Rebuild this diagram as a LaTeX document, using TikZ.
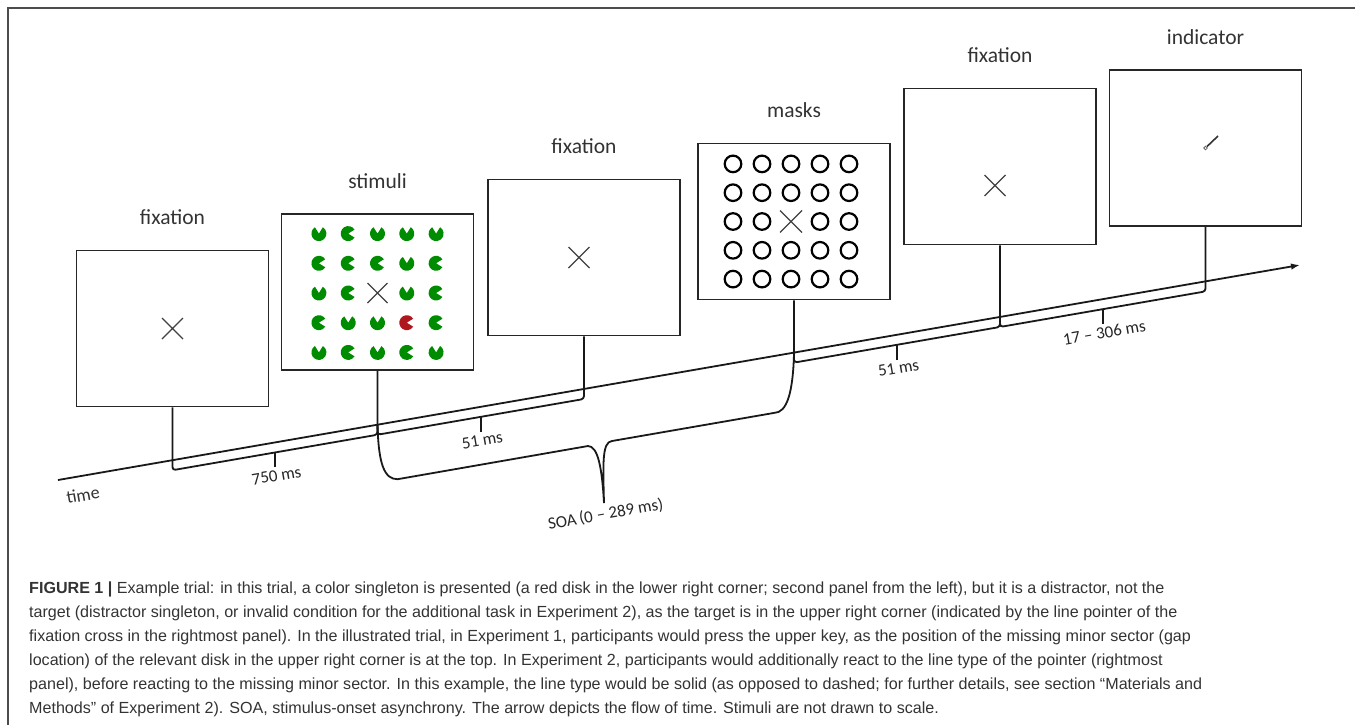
\documentclass[tikz,border=0pt]{standalone}
\usepackage{fontspec}
\setmainfont{Carlito}
\newfontfamily\capfont{Liberation Sans}
\usepackage{xcolor}
\usetikzlibrary{arrows.meta, positioning, calc}
\definecolor{dgreen}{RGB}{0,140,0}
\definecolor{dred}{RGB}{175,22,30}
\tikzstyle{screen} = [rectangle, draw=black!85, line width=1.8pt, minimum width=192pt, minimum height=156pt, inner sep=0pt]
\tikzstyle{lbl} = [font=\fontsize{21.5}{24}\selectfont, text=black!80]
\tikzstyle{ms} = [font=\fontsize{17}{19}\selectfont, text=black!85, rotate=9.8, anchor=north, inner sep=2pt]
\tikzstyle{tl} = [line width=1.8pt, black!90]
\tikzstyle{crossline} = [line width=1.3pt, black!75]
\tikzstyle{greendisk} = [fill=dgreen]
\tikzstyle{reddisk} = [fill=dred]
\tikzset{
  gapdisk/.pic={\fill (0,0) -- (#1+32:7.5) arc [start angle=#1+32, end angle=#1+328, radius=7.5] -- cycle;},
  xmark/.pic={\draw [crossline] (-#1,-#1) -- (#1,#1) (-#1,#1) -- (#1,-#1);}
}

\begin{document}
\begin{tikzpicture}[x=1pt, y=1pt, node distance=111pt]
\useasboundingbox (0,0) rectangle (1355,-724);
\draw [black!70, line width=1.6pt] (8,-730) -- (8,-8) -- (1360,-8);

% screens of one trial
\node (fix1) [screen] at (172.5,-328.5) {};
\node (stim) [screen] at (377.5,-292) {};
\node (fix2) [screen] at (584,-257.5) {};
\node (mask) [screen] at (794,-221.5) {};
\node (fix3) [screen] at (1000,-166.5) {};
\node (ind) [screen] at (1205.5,-148) {};

\node (lfix1) [lbl, above of=fix1] {fixation};
\node (lstim) [lbl, above of=stim] {stimuli};
\node (lfix2) [lbl, above of=fix2] {fixation};
\node (lmask) [lbl, above of=mask] {masks};
\node (lfix3) [lbl, above of=fix3] {fixation};
\node (lind) [lbl, above of=ind] {indicator};

% screen contents
\pic at (fix1) {xmark=10.5};
\pic at ($(fix2)+(-5,0)$) {xmark=10.5};
\pic at ($(fix3)+(-5,-19)$) {xmark=10.5};
\pic at ($(stim)+(0,-1)$) {xmark=10};
\pic at ($(mask)+(-3,0)$) {xmark=11};
\foreach \angs [count=\r from 0] in {{90,0,90,90,90},{0,0,0,90,0},{90,0,-1,90,0},{0,90,90,-2,0},{90,0,90,0,90}}
  \foreach \a [count=\c from 0] in \angs {
    \ifnum\a=-1\relax
    \else\ifnum\a=-2\relax
      \pic [reddisk] at ($(stim)+({(\c-2)*29.3},{-(\r-2)*29.7-1})$) {gapdisk=0};
    \else
      \pic [greendisk] at ($(stim)+({(\c-2)*29.3},{-(\r-2)*29.7-1})$) {gapdisk=\a};
    \fi\fi
  };
\foreach \r in {0,...,4}
  \foreach \c in {0,...,4} {
    \pgfmathtruncatemacro\k{\r*5+\c}
    \ifnum\k=12\relax\else
      \draw [line width=2.2pt] ($(mask)+({(\c-2)*29-3},{-(\r-2)*28.8})$) circle (8.3);
    \fi
  };
\draw [line width=1.6pt, black!80] ($(ind)+(1.5,1.5)$) -- ++(11,10.5);
\draw [black!60, line width=0.8pt] (ind) circle (1.8);

% time line
\coordinate (tstart) at (58,-480);
\coordinate (tend) at (1300,-265);
\draw [tl, -{Latex[length=9pt, width=6.5pt]}] (tstart) -- (tend);
\node (time) [lbl, font=\fontsize{18}{20}\selectfont, rotate=9.8] at (83,-495) {time};

\coordinate (c1) at (intersection of tstart--tend and fix1.south--fix1.north);
\coordinate (c2) at (intersection of tstart--tend and stim.south--stim.north);
\coordinate (c3) at (intersection of tstart--tend and fix2.south--fix2.north);
\coordinate (c4) at (intersection of tstart--tend and mask.south--mask.north);
\coordinate (c5) at (intersection of tstart--tend and fix3.south--fix3.north);
\coordinate (c6) at (intersection of tstart--tend and ind.south--ind.north);
\foreach \s/\c in {fix1/c1, stim/c2, fix2/c3, mask/c4, fix3/c5, ind/c6}
  \draw [tl] (\s.south) -- (\c);

% durations
\foreach \a/\b/\t in {c1/c2/{750 ms}, c2/c3/{51 ms}, c4/c5/{51 ms}, c5/c6/{17 -- 306 ms}} {
  \draw [tl, rounded corners=3pt] (\a) -- ($(\a)+(0,-10)$) -- ($(\b)+(0,-10)$) -- (\b);
  \draw [tl] ($(\a)!0.5!(\b)+(0,-10)$) -- ++(0,-15) node [ms] {\t};
}
\draw [tl] (c2) .. controls +(1,-40) and +(-13,0) .. ($(c2)+(20,-54.5)$)
  -- (588,-446) .. controls +(10,0) and +(-2,35) .. (604,-503)
  .. controls +(-1,40) and +(-10,-1) .. (612,-441)
  -- ($(c4)+(-20,-60.3)$) .. controls +(13,0) and +(-1,-40) .. (c4);
\node (soa) [ms] at (604,-505) {SOA\,(0 -- 289 ms)};

% caption
\node (cap) [anchor=north west, inner sep=0pt, align=left, text=black!80,
  font=\capfont\fontsize{16.1}{23.9}\selectfont] at (29,-582) {%
\textbf{FIGURE 1 |} Example trial: in this trial, a color singleton is presented (a red disk in the lower right corner; second panel from the left), but it is a distractor, not the\\
target (distractor singleton, or invalid condition for the additional task in Experiment 2), as the target is in the upper right corner (indicated by the line pointer of the\\
fixation cross in the rightmost panel). In the illustrated trial, in Experiment 1, participants would press the upper key, as the position of the missing minor sector (gap\\
location) of the relevant disk in the upper right corner is at the top. In Experiment 2, participants would additionally react to the line type of the pointer (rightmost\\
panel), before reacting to the missing minor sector. In this example, the line type would be solid (as opposed to dashed; for further details, see section “Materials and\\
Methods” of Experiment 2). SOA, stimulus-onset asynchrony. The arrow depicts the flow of time. Stimuli are not drawn to scale.};
\end{tikzpicture}
\end{document}
